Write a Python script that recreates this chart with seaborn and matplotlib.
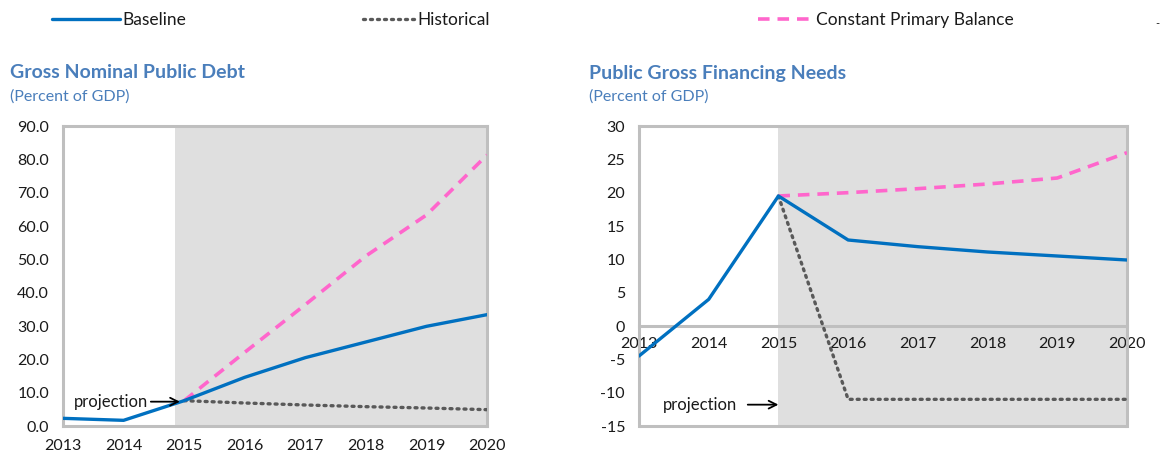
import matplotlib
matplotlib.use("Agg")
import matplotlib.pyplot as plt
from matplotlib.lines import Line2D
import seaborn as sns
import pandas as pd

# ---- data ----
years = [2013, 2014, 2015, 2016, 2017, 2018, 2019, 2020]
proj_years = [2015, 2016, 2017, 2018, 2019, 2020]

debt_baseline = [2.3, 1.7, 7.6, 14.6, 20.5, 25.2, 29.9, 33.4]
debt_historical = [7.6, 6.9, 6.3, 5.8, 5.4, 4.9]
debt_cpb = [7.6, 22.1, 36.4, 51.0, 63.3, 81.3]

gfn_baseline = [-4.5, 4.0, 19.5, 12.9, 11.9, 11.1, 10.5, 9.9]
gfn_historical = [19.5, -11.0, -11.0, -11.0, -11.0, -11.0]
gfn_cpb = [19.5, 20.0, 20.6, 21.3, 22.2, 26.0]

series_names = ["Baseline", "Historical", "Constant Primary Balance"]
left_title = "Gross Nominal Public Debt"
right_title = "Public Gross Financing Needs"
subtitle = "(Percent of GDP)"

# ---- style ----
sns.set_theme(style="white")
plt.rcParams["font.family"] = ["Lato", "DejaVu Sans"]

BLUE = "#0070C0"
GREY = "#595959"
PINK = "#FF66CC"
SHADE = "#DFDFDF"
SPINE = "#BFBFBF"
TITLE = "#4A7EBB"
TXT = "#1a1a1a"

W, H = 1161, 457
fig = plt.figure(figsize=(W / 100, H / 100), dpi=100)


def frac(x0, y0, x1, y1):
    return [x0 / W, 1 - y1 / H, (x1 - x0) / W, (y1 - y0) / H]


ax1 = fig.add_axes(frac(63, 126, 487, 426))
ax2 = fig.add_axes(frac(639, 126, 1127, 426))

styles = {
    "Baseline": dict(color=BLUE, linewidth=2.4, linestyle="-"),
    "Historical": dict(color=GREY, linewidth=2.4, linestyle=(0, (0.6, 1.5)),
                       dash_capstyle="round"),
    "Constant Primary Balance": dict(color=PINK, linewidth=2.6,
                                     linestyle=(0, (3.2, 2.2))),
}


def draw(ax, base, hist, cpb, shade_from, ylim):
    ax.axvspan(shade_from, 2020, color=SHADE, zorder=0, linewidth=0)
    df_b = pd.DataFrame({"year": years, "value": base})
    df_h = pd.DataFrame({"year": proj_years, "value": hist})
    df_c = pd.DataFrame({"year": proj_years, "value": cpb})
    sns.lineplot(data=df_h, x="year", y="value", ax=ax, zorder=3,
                 **styles["Historical"])
    sns.lineplot(data=df_c, x="year", y="value", ax=ax, zorder=4,
                 **styles["Constant Primary Balance"])
    sns.lineplot(data=df_b, x="year", y="value", ax=ax, zorder=5,
                 **styles["Baseline"])
    ax.set_xlim(2013, 2020)
    ax.set_ylim(*ylim)
    ax.set_xlabel("")
    ax.set_ylabel("")
    ax.set_xticks(years)
    ax.set_xticklabels([str(y) for y in years])
    for s in ax.spines.values():
        s.set_color(SPINE)
        s.set_linewidth(2.2)
    ax.tick_params(axis="both", direction="in", length=5, width=1.5,
                   color=SPINE, labelsize=11.5, labelcolor=TXT)
    ax.tick_params(axis="y", pad=10)
    ax.tick_params(axis="x", pad=9)


draw(ax1, debt_baseline, debt_historical, debt_cpb, 2014.85, (0, 90))
ax1.set_yticks(range(0, 91, 10))
ax1.set_yticklabels([f"{v:.1f}" for v in range(0, 91, 10)])

draw(ax2, gfn_baseline, gfn_historical, gfn_cpb, 2015, (-15, 30))
ax2.set_yticks(range(-15, 31, 5))
ax2.set_yticklabels([str(v) for v in range(-15, 31, 5)])
ax2.spines["bottom"].set_position(("data", 0))
ax2.axhline(-15, color=SPINE, linewidth=2.2, clip_on=False, zorder=6)
ax2.tick_params(axis="x", pad=8)

# projection markers
arrow = dict(arrowstyle="->", color="black", lw=1.3, mutation_scale=14,
             shrinkA=0, shrinkB=0)
ax1.text(2014.40, 7.3, "projection", ha="right", va="center",
         fontsize=12, color=TXT, zorder=7)
ax1.annotate("", xy=(2014.93, 7.3), xytext=(2014.45, 7.3),
             arrowprops=arrow, zorder=7)
ax2.text(2014.41, -11.8, "projection", ha="right", va="center",
         fontsize=12, color=TXT, zorder=7)
ax2.annotate("", xy=(2015.0, -11.8), xytext=(2014.56, -11.8),
             arrowprops=arrow, zorder=7)

# titles
for x0, title in ((10, left_title), (589, right_title)):
    fig.text(x0 / W, 1 - 73 / H, title, fontsize=14, fontweight="bold",
             color=TITLE, va="center", ha="left")
    fig.text(x0 / W, 1 - 97 / H, subtitle, fontsize=11.5, color=TITLE,
             va="center", ha="left")

# legend row
legend_pos = {"Baseline": 52, "Historical": 363,
              "Constant Primary Balance": 758}
handle_len = {"Baseline": 3.9, "Historical": 3.0,
              "Constant Primary Balance": 3.2}
for name in series_names:
    h = Line2D([], [], **styles[name])
    fig.legend([h], [name], loc="center left",
               bbox_to_anchor=(legend_pos[name] / W, 1 - 20 / H),
               frameon=False, borderpad=0, borderaxespad=0,
               handlelength=handle_len[name],
               handletextpad=0.15, fontsize=12.5, labelcolor=TXT)
fig.text(1157 / W, 1 - 24 / H, "-", fontsize=8, color=TXT, ha="center",
         va="center")

fig.savefig("out.png", dpi=100)
